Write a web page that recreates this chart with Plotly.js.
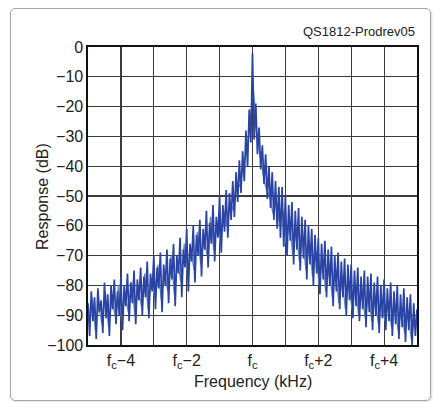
<!DOCTYPE html>
<html>
<head>
<meta charset="utf-8">
<script src="https://cdn.plot.ly/plotly-3.0.1.min.js"></script>
<style>
  html, body { margin: 0; padding: 0; background: #fff; }
  #wrap { position: relative; width: 435px; height: 402px; }
  #chart { position: absolute; left: 0; top: 0; width: 435px; height: 402px; }
  #frame { position: absolute; left: 10px; top: 8px; width: 419px; height: 391px;
           border: 1px solid #a8a8a8; border-radius: 5px; pointer-events: none;
           box-shadow: 1px 1px 2px rgba(0,0,0,0.15); }
</style>
</head>
<body>
<div id="wrap">
  <div id="chart"></div>
  <div id="frame"></div>
</div>
<script>
// Frequency offsets from fc (kHz), main trace sampled every 0.05 kHz from -5 to +5
const mainStart = -5.0;
const mainStep = 0.05;
const mainResponse = [
  -86, -97, -82, -92, -84, -98, -81, -89, -85, -96,
  -79, -91, -83, -97, -80, -88, -78, -93, -82, -90,
  -77, -95, -80, -87, -76, -92, -79, -86, -75, -93,
  -78, -85, -74, -90, -77, -84, -72, -91, -76, -82,
  -70, -88, -74, -81, -69, -89, -73, -80, -68, -86,
  -71, -78, -66, -87, -70, -76, -64, -84, -68, -74,
  -61, -82, -66, -72, -60, -79, -63, -70, -58, -77,
  -61, -68, -55, -74, -59, -66, -53, -72, -57, -64,
  -50, -69, -53, -62, -48, -64, -49, -58, -45, -57,
  -42, -52, -38, -49, -35, -45, -28, -40, -21, -32,
  -2,
  -31, -19, -36, -27, -41, -33, -46, -36, -51, -40,
  -54, -42, -58, -45, -61, -47, -64, -47, -67, -50,
  -70, -53, -65, -52, -73, -55, -68, -54, -75, -57,
  -71, -58, -78, -60, -73, -61, -80, -63, -76, -64,
  -83, -66, -78, -65, -84, -68, -80, -67, -87, -70,
  -82, -69, -88, -72, -84, -71, -90, -73, -85, -73,
  -91, -75, -87, -74, -92, -77, -88, -75, -94, -77,
  -89, -76, -95, -79, -90, -77, -96, -80, -91, -78,
  -95, -81, -92, -79, -97, -82, -93, -80, -98, -83,
  -94, -81, -99, -84, -95, -83, -100, -86, -97, -88
];
// Secondary (lighter) trace sampled every 0.1 kHz from -4.975
const lightStart = -4.975;
const lightStep = 0.1;
const lightResponse = [
  -91, -84, -95, -87, -93, -82, -94, -85, -90, -80,
  -92, -83, -89, -79, -90, -81, -87, -76, -88, -78,
  -84, -73, -85, -75, -82, -70, -83, -72, -79, -66,
  -77, -68, -75, -62, -73, -64, -70, -57, -68, -59,
  -66, -55, -60, -52, -55, -45, -47, -39, -35, -26,
  -14, -28, -36, -43, -48, -50, -56, -52, -60, -55,
  -66, -59, -70, -61, -72, -64, -75, -66, -77, -69,
  -80, -71, -82, -74, -84, -76, -86, -78, -88, -79,
  -88, -80, -90, -82, -91, -83, -92, -84, -93, -85,
  -92, -86, -94, -87, -95, -88, -96, -89, -98, -91
];
const xTickVals = [-5, -4, -3, -2, -1, 0, 1, 2, 3, 4, 5];
const xTickText = [' ', 'f<sub>c</sub>−4', ' ', 'f<sub>c</sub>−2', ' ', 'f<sub>c</sub>', ' ', 'f<sub>c</sub>+2', ' ', 'f<sub>c</sub>+4', ' '];
const yTickVals = [0, -10, -20, -30, -40, -50, -60, -70, -80, -90, -100];

const mainFreq = mainResponse.map((_, i) => +(mainStart + i * mainStep).toFixed(3));
const lightFreq = lightResponse.map((_, i) => +(lightStart + i * lightStep).toFixed(3));

const font = 'Liberation Sans, Arial, sans-serif';
const grid = '#3c3c3c';

const data = [
  { x: lightFreq, y: lightResponse, type: 'scatter', mode: 'lines',
    line: { color: '#6a8fbf', width: 1.3 }, hoverinfo: 'skip', showlegend: false },
  { x: mainFreq, y: mainResponse, type: 'scatter', mode: 'lines',
    line: { color: '#2a44a6', width: 1.7 }, showlegend: false }
];

const layout = {
  width: 435, height: 402,
  margin: { l: 88, r: 18, t: 47, b: 57 },
  paper_bgcolor: '#ffffff', plot_bgcolor: '#ffffff',
  font: { family: font, size: 16, color: '#222' },
  showlegend: false,
  xaxis: {
    range: [-5, 5], tickmode: 'array', tickvals: xTickVals, ticktext: xTickText,
    showgrid: true, gridcolor: grid, gridwidth: 1.2,
    zeroline: false, showline: true, linecolor: '#111', linewidth: 1.6, mirror: true,
    ticks: '', tickfont: { family: font, size: 16, color: '#222' }
  },
  yaxis: {
    range: [-100, 0], tickmode: 'array', tickvals: yTickVals,
    showgrid: true, gridcolor: grid, gridwidth: 1.2,
    zeroline: false, showline: true, linecolor: '#111', linewidth: 1.6, mirror: true,
    ticks: '', tickfont: { family: font, size: 16, color: '#222' }
  },
  annotations: [
    { text: 'QS1812-Prodrev05', xref: 'paper', yref: 'paper', x: 1.0, y: 1.0,
      xanchor: 'right', yanchor: 'bottom', yshift: 6, showarrow: false,
      font: { family: font, size: 13, color: '#222' } },
    { text: 'Response (dB)', xref: 'paper', yref: 'paper', x: -0.14, y: 0.5,
      xanchor: 'center', yanchor: 'middle', textangle: -90, showarrow: false,
      font: { family: font, size: 16, color: '#222' } },
    { text: 'Frequency (kHz)', xref: 'paper', yref: 'paper', x: 0.5, y: -0.124,
      xanchor: 'center', yanchor: 'middle', showarrow: false,
      font: { family: font, size: 16, color: '#222' } }
  ]
};

Plotly.newPlot('chart', data, layout, { displayModeBar: false, staticPlot: true });
</script>
</body>
</html>
